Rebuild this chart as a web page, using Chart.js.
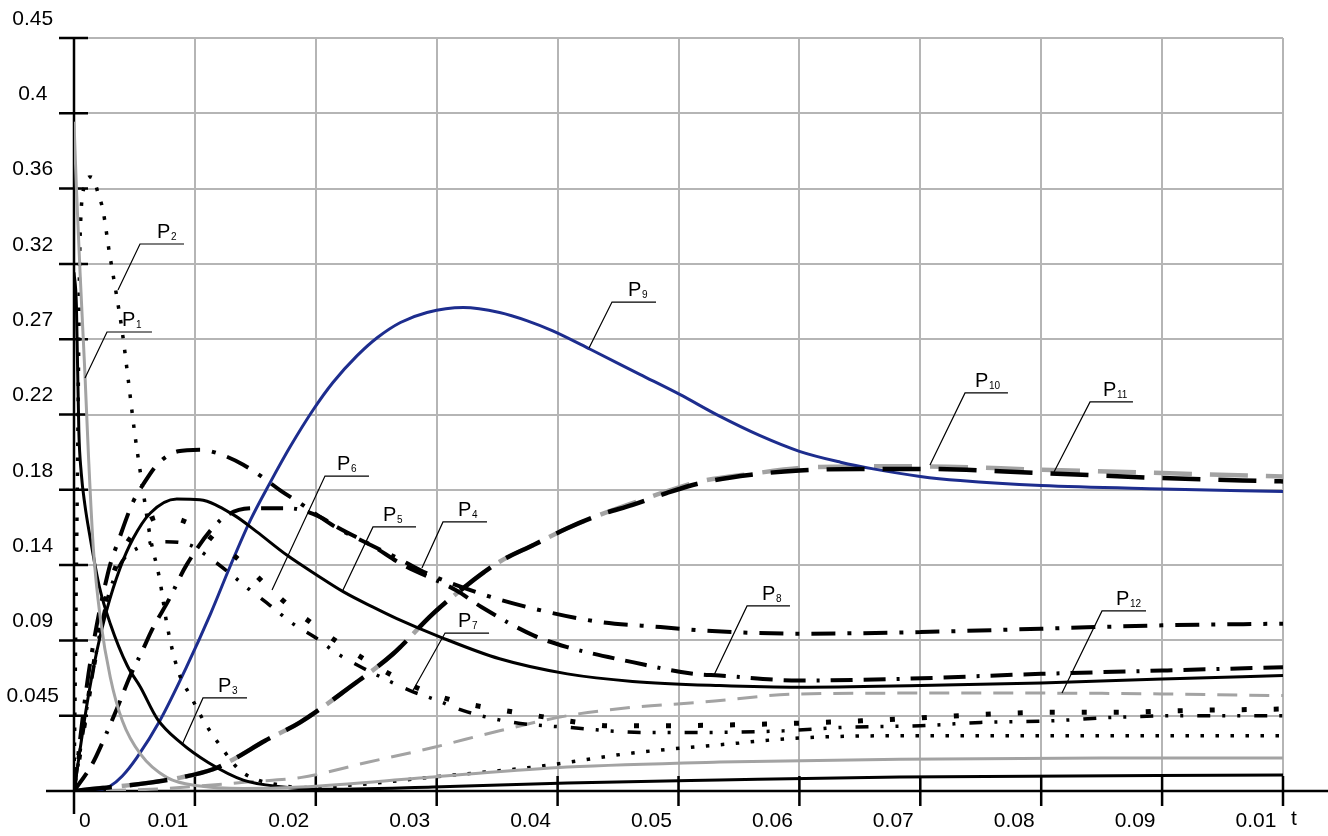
<!DOCTYPE html>
<html>
<head>
<meta charset="utf-8">
<title>P(t)</title>
<script src="https://cdn.jsdelivr.net/npm/chart.js@4.4.1/dist/chart.umd.min.js"></script>
<style>
  html, body { margin: 0; padding: 0; background: #fff; }
  #wrap { position: relative; width: 1328px; height: 836px; }
</style>
</head>
<body>
<div id="wrap"><canvas id="chart"></canvas></div>
<script>
// axis ticks
const xTickValues = [0, 0.01, 0.02, 0.03, 0.04, 0.05, 0.06, 0.07, 0.08, 0.09, 0.1];
const xTickLabels = ['0', '0.01', '0.02', '0.03', '0.04', '0.05', '0.06', '0.07', '0.08', '0.09', '0.01'];
const yTickValues = [0, 0.045, 0.09, 0.135, 0.18, 0.225, 0.27, 0.315, 0.36, 0.405, 0.45];
const yTickLabels = ['', '0.045', '0.09', '0.14', '0.18', '0.22', '0.27', '0.32', '0.36', '0.4', '0.45'];

// series (t, value)
const tP1 = [0, 0.0002, 0.0005, 0.0007, 0.0009, 0.0012, 0.0016, 0.0022, 0.003, 0.004, 0.0055, 0.0077, 0.0104, 0.014, 0.0187, 0.0297, 0.0408, 0.0534, 0.0683, 0.085, 0.1];
const vP1 = [0.4, 0.36, 0.31, 0.28, 0.25, 0.2, 0.145, 0.102, 0.068, 0.042, 0.022, 0.008, 0.003, 0.0015, 0.0024, 0.0084, 0.0143, 0.0173, 0.019, 0.0197, 0.0197];

const tP2 = [0, 0.0003, 0.0005, 0.0009, 0.0013, 0.0016, 0.002, 0.0024, 0.0029, 0.0035, 0.004, 0.0045, 0.005, 0.0056, 0.0063, 0.0071, 0.0077, 0.0086, 0.0097, 0.0108, 0.0122, 0.0137, 0.0152, 0.0167, 0.0187, 0.0238, 0.0297, 0.038, 0.0462, 0.0532, 0.06, 0.0683, 0.08, 0.1];
const vP2 = [0, 0.2, 0.33, 0.362, 0.367, 0.366, 0.357, 0.347, 0.323, 0.297, 0.274, 0.245, 0.215, 0.185, 0.152, 0.126, 0.099, 0.072, 0.056, 0.041, 0.026, 0.0125, 0.0066, 0.004, 0.002, 0.004, 0.0084, 0.0143, 0.0227, 0.0275, 0.0317, 0.033, 0.033, 0.033];

const tP3 = [0, 0.0002, 0.0004, 0.0006, 0.0009, 0.0013, 0.0021, 0.003, 0.0044, 0.0055, 0.0069, 0.0088, 0.0111, 0.014, 0.0173, 0.0201, 0.0297, 0.0408, 0.0534, 0.0683, 0.1];
const vP3 = [0.31, 0.29, 0.215, 0.19, 0.171, 0.153, 0.122, 0.1, 0.075, 0.062, 0.043, 0.029, 0.017, 0.0065, 0.0024, 0.001, 0.0024, 0.0048, 0.0066, 0.0084, 0.0096];

const tP4 = [0, 0.0012, 0.0028, 0.0038, 0.0049, 0.0057, 0.007, 0.0086, 0.0104, 0.0122, 0.014, 0.0155, 0.017, 0.0187, 0.0201, 0.0218, 0.0237, 0.0268, 0.0289, 0.0336, 0.038, 0.0435, 0.0485, 0.0518, 0.06, 0.07, 0.08, 0.09, 0.1];
const vP4 = [0, 0.07, 0.13, 0.152, 0.173, 0.183, 0.196, 0.203, 0.204, 0.201, 0.195, 0.188, 0.18, 0.172, 0.165, 0.157, 0.15, 0.139, 0.131, 0.118, 0.109, 0.101, 0.098, 0.096, 0.094, 0.095, 0.097, 0.099, 0.1];

const tP5 = [0, 0.0011, 0.0019, 0.0027, 0.0038, 0.0049, 0.0063, 0.0085, 0.0104, 0.0132, 0.0151, 0.0176, 0.0201, 0.0223, 0.0247, 0.0267, 0.0303, 0.0352, 0.0408, 0.0462, 0.0534, 0.06, 0.07, 0.08, 0.09, 0.1];
const vP5 = [0, 0.053, 0.084, 0.108, 0.133, 0.151, 0.166, 0.1745, 0.174, 0.165, 0.155, 0.141, 0.129, 0.119, 0.11, 0.103, 0.092, 0.079, 0.07, 0.0655, 0.063, 0.062, 0.063, 0.0645, 0.067, 0.069];

const tP6 = [0, 0.0013, 0.0025, 0.0038, 0.0055, 0.0073, 0.0098, 0.0119, 0.014, 0.0159, 0.0179, 0.0199, 0.022, 0.0242, 0.0266, 0.0289, 0.0314, 0.034, 0.0365, 0.0391, 0.0417, 0.0443, 0.047, 0.0574, 0.0653, 0.0706, 0.0759, 0.0809, 0.0863, 0.0915, 0.1];
const vP6 = [0, 0.06, 0.11, 0.14, 0.158, 0.164, 0.159, 0.148, 0.136, 0.123, 0.11, 0.099, 0.088, 0.078, 0.068, 0.06, 0.054, 0.05, 0.047, 0.044, 0.041, 0.039, 0.039, 0.04, 0.042, 0.044, 0.046, 0.047, 0.047, 0.048, 0.049];

const tP7 = [0, 0.0013, 0.0026, 0.0038, 0.0055, 0.0075, 0.0096, 0.0111, 0.0129, 0.0144, 0.0162, 0.0181, 0.0199, 0.0218, 0.0235, 0.0257, 0.0278, 0.0301, 0.0322, 0.0363, 0.0409, 0.0473, 0.0523, 0.0589, 0.0635, 0.07, 0.075, 0.081, 0.086, 0.092, 0.1];
const vP7 = [0, 0.06, 0.11, 0.135, 0.146, 0.149, 0.147, 0.14, 0.13, 0.121, 0.111, 0.1, 0.092, 0.082, 0.075, 0.067, 0.06, 0.054, 0.048, 0.041, 0.038, 0.035, 0.035, 0.036, 0.038, 0.039, 0.041, 0.042, 0.044, 0.045, 0.045];

const tP8 = [0, 0.0015, 0.0026, 0.0036, 0.0046, 0.0056, 0.0065, 0.0079, 0.0093, 0.0123, 0.0149, 0.0177, 0.0203, 0.0217, 0.0248, 0.027, 0.0316, 0.0337, 0.038, 0.0408, 0.0462, 0.0512, 0.0534, 0.06, 0.0683, 0.08, 0.09, 0.1];
const vP8 = [0, 0.016, 0.033, 0.05, 0.068, 0.083, 0.097, 0.115, 0.135, 0.163, 0.169, 0.169, 0.164, 0.158, 0.146, 0.136, 0.12, 0.11, 0.093, 0.086, 0.077, 0.07, 0.069, 0.066, 0.067, 0.07, 0.072, 0.074];

const tP9 = [0.0005, 0.002, 0.003, 0.004, 0.0052, 0.0071, 0.0093, 0.0113, 0.0129, 0.0146, 0.0162, 0.0179, 0.0198, 0.0214, 0.0234, 0.0251, 0.027, 0.0292, 0.0322, 0.0352, 0.0375, 0.0396, 0.0427, 0.0468, 0.0501, 0.0534, 0.0567, 0.06, 0.0634, 0.0661, 0.07, 0.0733, 0.08, 0.09, 0.1];
const vP9 = [0, 0.0005, 0.003, 0.009, 0.02, 0.042, 0.074, 0.106, 0.134, 0.162, 0.184, 0.206, 0.228, 0.244, 0.26, 0.271, 0.28, 0.286, 0.289, 0.286, 0.281, 0.275, 0.264, 0.249, 0.237, 0.224, 0.2125, 0.203, 0.1965, 0.1925, 0.188, 0.1855, 0.1825, 0.1805, 0.179];

const tP10P11 = [0, 0.0013, 0.0063, 0.0088, 0.0115, 0.0132, 0.0158, 0.0187, 0.0228, 0.0264, 0.0297, 0.0325, 0.0352, 0.038, 0.0408, 0.0435, 0.0462, 0.049, 0.0518, 0.056, 0.06, 0.065, 0.07, 0.08, 0.09, 0.1];
const vP10 = [0, 0.001, 0.005, 0.008, 0.013, 0.019, 0.03, 0.041, 0.062, 0.082, 0.106, 0.123, 0.137, 0.147, 0.157, 0.165, 0.172, 0.179, 0.185, 0.1895, 0.193, 0.194, 0.194, 0.192, 0.19, 0.188];
const vP11 = [0, 0.001, 0.005, 0.008, 0.013, 0.019, 0.03, 0.041, 0.062, 0.082, 0.106, 0.123, 0.137, 0.147, 0.157, 0.165, 0.171, 0.178, 0.184, 0.189, 0.1915, 0.1925, 0.1925, 0.19, 0.187, 0.185];

const tP12 = [0, 0.0063, 0.0104, 0.0145, 0.0187, 0.0242, 0.0297, 0.0352, 0.0408, 0.0462, 0.0518, 0.06, 0.07, 0.08, 0.09, 0.1];
const vP12 = [0, 0.001, 0.003, 0.0055, 0.008, 0.017, 0.026, 0.036, 0.045, 0.05, 0.053, 0.058, 0.0585, 0.0585, 0.058, 0.057];

// curve labels: point on the curve, elbow of the leader, end of the underline (data units)
const curveLabels = [
  { sub: '1',  target: [0.00091, 0.2468], elbow: [0.00273, 0.2743], end: 0.00645, dx: 15 },
  { sub: '2',  target: [0.00364, 0.2994], elbow: [0.00546, 0.3269], end: 0.0091,  dx: 17 },
  { sub: '3',  target: [0.00893, 0.0275], elbow: [0.01067, 0.0556], end: 0.01431, dx: 15 },
  { sub: '4',  target: [0.02878, 0.1333], elbow: [0.03052, 0.1608], end: 0.03416, dx: 15 },
  { sub: '5',  target: [0.02217, 0.1189], elbow: [0.02473, 0.1578], end: 0.02829, dx: 10 },
  { sub: '6',  target: [0.01638, 0.1201], elbow: [0.02076, 0.1882], end: 0.0244,  dx: 12 },
  { sub: '7',  target: [0.02796, 0.0592], elbow: [0.03069, 0.0944], end: 0.03433, dx: 13 },
  { sub: '8',  target: [0.05294, 0.0693], elbow: [0.05567, 0.1106], end: 0.05922, dx: 15 },
  { sub: '9',  target: [0.0426,  0.2647], elbow: [0.0445,  0.2922], end: 0.04814, dx: 16 },
  { sub: '10', target: [0.0708,  0.1948], elbow: [0.0737,  0.2379], end: 0.07725, dx: 10 },
  { sub: '11', target: [0.08106, 0.1906], elbow: [0.08404, 0.2325], end: 0.08759, dx: 13 },
  { sub: '12', target: [0.08172, 0.0586], elbow: [0.08503, 0.1076], end: 0.08867, dx: 14 }
];

const family = "'Liberation Sans', Arial, sans-serif";
const black = '#000000';
const gray = '#a3a3a3';
const blue = '#1d2d8e';
const gridColor = '#b5b5b5';

function series(ts, vs) {
  return ts.map((t, i) => ({ x: t, y: vs[i] }));
}

function line(label, ts, vs, color, width, dash, extra) {
  return Object.assign({
    label: label,
    data: series(ts, vs),
    borderColor: color,
    backgroundColor: color,
    borderWidth: width,
    borderDash: dash || [],
    borderCapStyle: 'butt',
    borderJoinStyle: 'round',
    pointRadius: 0,
    fill: false,
    cubicInterpolationMode: 'monotone',
    order: 5
  }, extra || {});
}

const axesAndLabels = {
  id: 'axesAndLabels',
  beforeDatasetsDraw(chart) {
    const { ctx, scales: { x, y } } = chart;
    const x0 = x.getPixelForValue(0);
    const y0 = y.getPixelForValue(0);
    ctx.save();
    ctx.strokeStyle = black;
    ctx.lineWidth = 2.5;
    ctx.beginPath();
    ctx.moveTo(x0, y.getPixelForValue(0.45) - 1);
    ctx.lineTo(x0, y0 + 23);
    ctx.moveTo(x0 - 28, y0);
    ctx.lineTo(chart.width, y0);
    yTickValues.forEach(v => {
      const p = y.getPixelForValue(v);
      ctx.moveTo(x0 - 15, p);
      ctx.lineTo(x0 + 14, p);
    });
    xTickValues.forEach(v => {
      if (v === 0) return;
      const p = x.getPixelForValue(v);
      ctx.moveTo(p, y0 - 15);
      ctx.lineTo(p, y0 + 15);
    });
    ctx.stroke();
    ctx.restore();
  },
  afterDraw(chart) {
    const { ctx, scales: { x, y } } = chart;
    ctx.save();
    ctx.strokeStyle = black;
    ctx.fillStyle = black;
    ctx.lineWidth = 1.2;
    ctx.textAlign = 'left';
    ctx.textBaseline = 'alphabetic';
    curveLabels.forEach(l => {
      const tx = x.getPixelForValue(l.target[0]);
      const ty = y.getPixelForValue(l.target[1]);
      const ex = x.getPixelForValue(l.elbow[0]);
      const ey = y.getPixelForValue(l.elbow[1]);
      const rx = x.getPixelForValue(l.end);
      ctx.beginPath();
      ctx.moveTo(tx, ty);
      ctx.lineTo(ex, ey);
      ctx.lineTo(rx, ey);
      ctx.stroke();
      const lx = ex + l.dx;
      ctx.font = '20px ' + family;
      ctx.fillText('P', lx, ey - 6);
      ctx.font = '10px ' + family;
      ctx.fillText(l.sub, lx + 14, ey - 4);
    });
    ctx.font = '21px ' + family;
    ctx.fillText('t', x.getPixelForValue(0.1) + 8, y.getPixelForValue(0) + 34);
    ctx.restore();
  }
};

new Chart(document.getElementById('chart'), {
  type: 'line',
  data: {
    datasets: [
      line('P1', tP1, vP1, gray, 3),
      line('P2', tP2, vP2, black, 3.5, [3.5, 11.5]),
      line('P3', tP3, vP3, black, 3),
      line('P4', tP4, vP4, black, 4, [24, 12, 4, 12]),
      line('P5', tP5, vP5, black, 3),
      line('P6', tP6, vP6, black, 5, [5, 27]),
      line('P7', tP7, vP7, black, 3.5, [13, 12, 3, 12, 3, 14]),
      line('P8', tP8, vP8, black, 4, [22, 11, 22, 11, 3, 11]),
      line('P9', tP9, vP9, blue, 3),
      line('P10', tP10P11, vP10, gray, 4.5, [38, 18], { borderDashOffset: 8, order: 6 }),
      line('P11', tP10P11, vP11, black, 4.5, [38, 18], { order: 4 }),
      line('P12', tP12, vP12, gray, 3, [20, 12])
    ]
  },
  options: {
    responsive: true,
    maintainAspectRatio: false,
    animation: false,
    devicePixelRatio: 1,
    layout: { padding: { top: 38, right: 45, left: 0, bottom: 0 } },
    plugins: {
      legend: { display: false },
      tooltip: { enabled: false }
    },
    scales: {
      x: {
        type: 'linear',
        min: 0,
        max: 0.1,
        afterBuildTicks: s => { s.ticks = xTickValues.map(v => ({ value: v })); },
        afterFit: s => { s.height = 45; },
        grid: { color: gridColor, lineWidth: 2, drawTicks: false },
        border: { display: false },
        ticks: {
          autoSkip: false,
          maxRotation: 0,
          padding: 18,
          labelOffset: -27,
          color: black,
          font: { family: family, size: 21 },
          callback: (v, i) => i === 0 ? ' '.repeat(13) + xTickLabels[0] : xTickLabels[i]
        }
      },
      y: {
        type: 'linear',
        min: 0,
        max: 0.45,
        afterBuildTicks: s => { s.ticks = yTickValues.map(v => ({ value: v })); },
        afterFit: s => { s.width = 74; },
        grid: { color: gridColor, lineWidth: 2, drawTicks: false },
        border: { display: false },
        ticks: {
          autoSkip: false,
          padding: 15,
          crossAlign: 'center',
          labelOffset: -19,
          color: black,
          font: { family: family, size: 21 },
          callback: (v, i) => yTickLabels[i]
        }
      }
    }
  },
  plugins: [axesAndLabels]
});
</script>
</body>
</html>
